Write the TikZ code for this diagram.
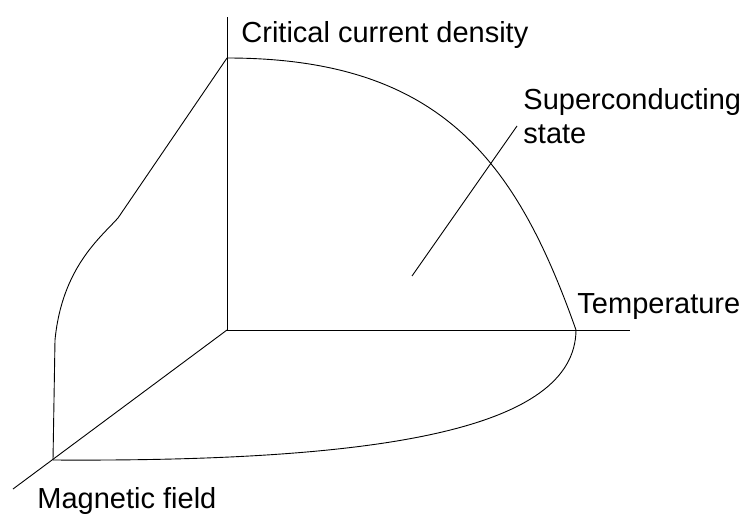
\documentclass[tikz,border=0pt]{standalone}
\usepackage{fontspec}
\setmainfont{Liberation Sans}
\usetikzlibrary{positioning,calc}

\begin{document}
\begin{tikzpicture}[x=1pt,y=-1pt,line width=0.9pt,
  lbl/.style={inner sep=0pt,font=\fontsize{29}{34}\selectfont}]
\useasboundingbox (0,0) rectangle (746,514);
% axes
\coordinate (O) at (227,330);
\coordinate (Jend) at (227,17);
\coordinate (Tend) at (630,330);
\coordinate (Hend) at (13,489);
\coordinate (Jc) at (227,58);
\coordinate (Tc) at (576,330);
\coordinate (Hc) at (53,460);
\draw (O) -- (Jend);
\draw (O) -- (Tend);
\draw (O) -- (Hend);
% critical surface edges
\draw (Jc) .. controls (440,58) and (516,160) .. (Tc);
\draw (Tc) .. controls (575,430) and (380,462) .. (Hc);
\draw (Jc) -- (118,218) .. controls (100,238) and (62,268) .. (55,340) -- (Hc);
% labels
\node[lbl,anchor=base west] (jlab) at (241,42) {Critical current density};
\node[lbl,anchor=base west] (tlab) at (577,313) {Temperature};
\node[lbl,anchor=base west] (hlab) at (37,508) {Magnetic field};
\node[lbl,anchor=base west,align=left] (slab) at (523,143) {Superconducting\\state};
\coordinate (leadA) at (412,276);
\coordinate (leadB) at (517,126);
\draw (leadA) -- (leadB);
\end{tikzpicture}
\end{document}
